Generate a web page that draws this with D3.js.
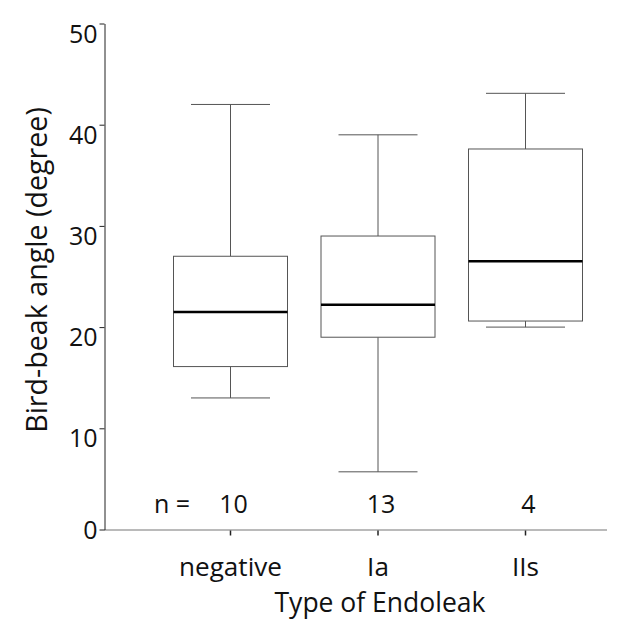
<!DOCTYPE html>
<meta charset="utf-8">
<head>
    <title>Bird-beak angle by type of endoleak</title>
    <script src="https://d3js.org/d3.v7.min.js"></script>
    <style>
        body { margin: 0; background: #fff; }
        svg text { font-family: "Open Sans", "Noto Sans", sans-serif; fill: #111; }
    </style>
</head>
<body>
<div id="chart"></div>
<script>
    // data
    var categories = ["negative", "Ia", "IIs"]
    var counts = [10, 13, 4]
    var whiskerLow = [13.0, 5.7, 20.0]
    var q1 = [16.1, 19.0, 20.6]
    var medians = [21.5, 22.2, 26.5]
    var q3 = [27.0, 29.0, 37.6]
    var whiskerHigh = [42.0, 39.0, 43.1]
    var yTicks = [0, 10, 20, 30, 40, 50]

    var width = 630, height = 640;
    var boxWidth = 114, capWidth = 79;

    var svg = d3.select("#chart")
        .append("svg")
        .attr("width", width)
        .attr("height", height);

    var x = d3.scalePoint()
        .domain(categories)
        .range([230.5, 525.5]);

    var y = d3.scaleLinear()
        .domain([0, 50])
        .range([529.5, 23.5]);

    // font size that makes a text span the wanted width
    function fitSize(sel, target) {
        var size = parseFloat(sel.style("font-size"));
        var w = sel.node().getComputedTextLength();
        return size * target / w;
    }

    // x axis line (gray) with small ticks below
    svg.append("line")
        .attr("x1", 104).attr("x2", 607)
        .attr("y1", y(0) + 0.5).attr("y2", y(0) + 0.5)
        .style("stroke", "#777").style("stroke-width", 1.2);

    svg.append("g").selectAll("line")
        .data(categories)
        .enter()
        .append("line")
        .attr("x1", function (d) { return x(d); })
        .attr("x2", function (d) { return x(d); })
        .attr("y1", y(0) + 1).attr("y2", y(0) + 6)
        .style("stroke", "#222").style("stroke-width", 1.5);

    // y axis
    var yAxis = svg.append("g")
        .attr("transform", "translate(104.5,0)")
        .call(d3.axisLeft(y).tickValues(yTicks).tickSize(5).tickSizeOuter(0).tickPadding(2));

    yAxis.select(".domain").style("stroke", "#222");
    yAxis.selectAll(".tick line").style("stroke", "#222");
    yAxis.selectAll(".tick text")
        .style("font-family", '"Open Sans", sans-serif')
        .style("font-size", "25px")
        .style("fill", "#111")
        .attr("dy", function (d) { return d === 0 ? "0.34em" : "0.74em"; });

    // boxes
    var boxes = svg.append("g").selectAll("g")
        .data(categories)
        .enter()
        .append("g");

    boxes.append("line")
        .attr("x1", function (d) { return x(d); })
        .attr("x2", function (d) { return x(d); })
        .attr("y1", function (d, i) { return y(whiskerHigh[i]); })
        .attr("y2", function (d, i) { return y(q3[i]); })
        .style("stroke", "#555");

    boxes.append("line")
        .attr("x1", function (d) { return x(d); })
        .attr("x2", function (d) { return x(d); })
        .attr("y1", function (d, i) { return y(q1[i]); })
        .attr("y2", function (d, i) { return y(whiskerLow[i]); })
        .style("stroke", "#555");

    boxes.append("line")
        .attr("x1", function (d) { return x(d) - capWidth / 2; })
        .attr("x2", function (d) { return x(d) + capWidth / 2; })
        .attr("y1", function (d, i) { return y(whiskerHigh[i]); })
        .attr("y2", function (d, i) { return y(whiskerHigh[i]); })
        .style("stroke", "#555");

    boxes.append("line")
        .attr("x1", function (d) { return x(d) - capWidth / 2; })
        .attr("x2", function (d) { return x(d) + capWidth / 2; })
        .attr("y1", function (d, i) { return y(whiskerLow[i]); })
        .attr("y2", function (d, i) { return y(whiskerLow[i]); })
        .style("stroke", "#555");

    boxes.append("rect")
        .attr("x", function (d) { return x(d) - boxWidth / 2; })
        .attr("y", function (d, i) { return y(q3[i]); })
        .attr("width", boxWidth)
        .attr("height", function (d, i) { return y(q1[i]) - y(q3[i]); })
        .style("fill", "#fff")
        .style("stroke", "#555");

    boxes.append("line")
        .attr("x1", function (d) { return x(d) - boxWidth / 2; })
        .attr("x2", function (d) { return x(d) + boxWidth / 2; })
        .attr("y1", function (d, i) { return y(medians[i]); })
        .attr("y2", function (d, i) { return y(medians[i]); })
        .style("stroke", "#000")
        .style("stroke-width", 2.5);

    // n = counts
    svg.append("text")
        .attr("x", 154).attr("y", 513)
        .style("font-size", "25px")
        .text("n =");

    svg.append("g").selectAll("text")
        .data(categories)
        .enter()
        .append("text")
        .attr("x", function (d) { return x(d) + 3; })
        .attr("y", 513)
        .attr("text-anchor", "middle")
        .style("font-size", "25px")
        .text(function (d, i) { return counts[i]; });

    // category labels
    var catLabels = svg.append("g").selectAll("text")
        .data(categories)
        .enter()
        .append("text")
        .attr("x", function (d) { return x(d); })
        .attr("y", 576)
        .attr("text-anchor", "middle")
        .style("font-size", "23px")
        .text(function (d) { return d; });
    var catSize = fitSize(d3.select(catLabels.nodes()[0]), 103);
    catLabels.style("font-size", catSize + "px");

    var xTitle = svg.append("text")
        .attr("x", 380).attr("y", 612)
        .attr("text-anchor", "middle")
        .style("font-size", "23px")
        .text("Type of Endoleak");
    xTitle.style("font-size", fitSize(xTitle, 211) + "px");

    var yTitle = svg.append("text")
        .attr("transform", "translate(47,270) rotate(-90)")
        .attr("text-anchor", "middle")
        .style("font-size", "25px")
        .text("Bird-beak angle (degree)");
    yTitle.style("font-size", fitSize(yTitle, 326) + "px");
</script>
</body>
